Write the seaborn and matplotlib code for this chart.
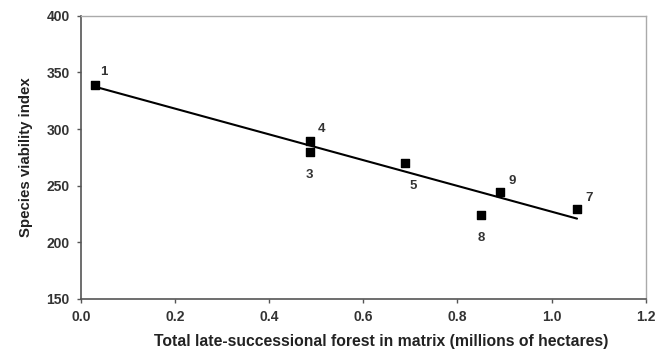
import pandas as pd
import matplotlib
matplotlib.use("Agg")
import matplotlib.pyplot as plt
import seaborn as sns

# Data
site = ["1", "4", "3", "5", "8", "9", "7"]
forest = [0.03, 0.486, 0.486, 0.689, 0.851, 0.891, 1.054]
viability = [339, 289, 280, 270, 224, 244, 229]

data = pd.DataFrame({"site": site, "forest": forest, "viability": viability})

sns.set_style("white")
plt.rcParams["font.family"] = ["Liberation Sans", "DejaVu Sans"]

fig = plt.figure(figsize=(6.63, 3.52), dpi=100)
ax = fig.add_axes([0.122, 0.151, 0.852, 0.804])

sns.regplot(x="forest", y="viability", data=data, ci=None, ax=ax,
            marker="s", color="black",
            scatter_kws={"s": 40, "alpha": 1, "zorder": 3},
            line_kws={"lw": 1.5})

# label offsets (points) for each site number
offsets = {"1": (4, 7), "4": (6, 7), "3": (0, -19), "5": (3, -19),
           "8": (0, -19), "9": (6, 6), "7": (6, 6)}
for _, r in data.iterrows():
    dx, dy = offsets[r["site"]]
    ax.annotate(r["site"], (r["forest"], r["viability"]), xytext=(dx, dy),
                textcoords="offset points", fontsize=9.5, fontweight="bold",
                color="#333333", ha="left" if dx > 2 else "center")

ax.set_xlim(0, 1.2)
ax.set_ylim(150, 400)
ax.set_xticks([0.0, 0.2, 0.4, 0.6, 0.8, 1.0, 1.2])
ax.set_xticklabels(["0.0", "0.2", "0.4", "0.6", "0.8", "1.0", "1.2"])
ax.set_yticks([150, 200, 250, 300, 350, 400])

ax.set_xlabel("Total late-successional forest in matrix (millions of hectares)",
              fontsize=11.3, fontweight="bold", color="#222222", labelpad=7)
ax.xaxis.label.set_x(0.532)
ax.set_ylabel("Species viability index", fontsize=10.8, fontweight="bold",
              color="#222222", labelpad=10)

for s in ["left", "bottom"]:
    ax.spines[s].set_color("#555555")
    ax.spines[s].set_linewidth(1.2)
for s in ["top", "right"]:
    ax.spines[s].set_color("#aaaaaa")
    ax.spines[s].set_linewidth(1.0)

ax.tick_params(axis="both", direction="out", length=3, width=1, color="#555555",
               labelsize=10, labelcolor="#333333", pad=5)
ax.tick_params(axis="both", bottom=True, left=True)
for lab in ax.get_xticklabels() + ax.get_yticklabels():
    lab.set_fontweight("bold")

fig.savefig("out.png", dpi=100)
